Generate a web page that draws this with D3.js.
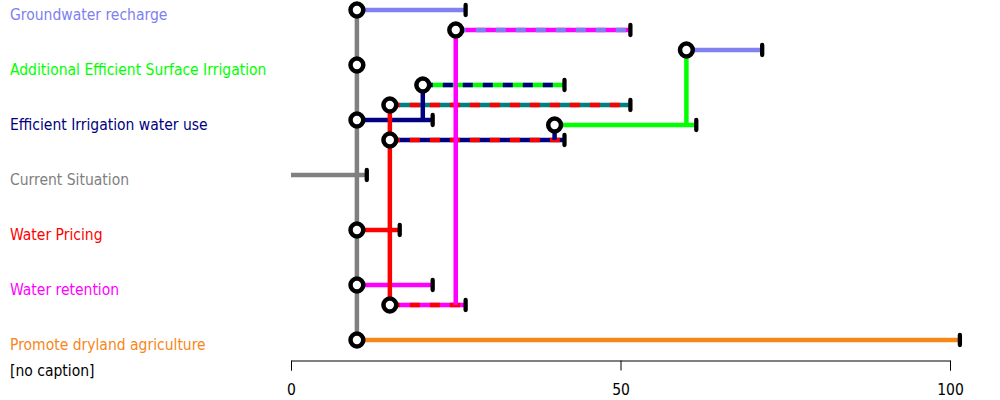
<!DOCTYPE html>
<html>
<head>
<meta charset="utf-8">
<script src="https://cdn.jsdelivr.net/npm/d3@7"></script>
<style>
  html, body { margin: 0; padding: 0; background: #fff; }
  svg { display: block; }
  text { font-family: "DejaVu Sans Condensed", "DejaVu Sans", sans-serif; }
</style>
</head>
<body>
<svg id="chart" width="1000" height="400"></svg>
<script>
// ---- categories (measures) ----
const categories = [
  "Groundwater recharge",
  "Additional Efficient Surface Irrigation",
  "Efficient Irrigation water use",
  "Current Situation",
  "Water Pricing",
  "Water retention",
  "Promote dryland agriculture"
];
const categoryColors = ["#8080f0", "#00ff00", "#000080", "#808080", "#ff0000", "#ff00ff", "#f7861b"];

// ---- horizontal pathway segments ----
const segRow   = ["Current Situation", "Groundwater recharge", "Groundwater recharge", "Groundwater recharge",
                  "Additional Efficient Surface Irrigation", "Additional Efficient Surface Irrigation", "Additional Efficient Surface Irrigation",
                  "Efficient Irrigation water use", "Efficient Irrigation water use",
                  "Water Pricing", "Water retention", "Water retention", "Promote dryland agriculture"];
const segLane  = [0, 0, 1, 2, 1, 2, 3, 0, 1, 0, 0, 1, 0];
const segStart = [0, 10, 25, 60, 20, 15, 40, 10, 15, 10, 10, 15, 10];
const segEnd   = [11.5, 26.5, 51.5, 71.5, 41.5, 51.5, 61.5, 21.5, 41.5, 16.5, 21.5, 26.5, 101.5];
const segColor = ["#808080", "#8080f0", "#ff00ff", "#8080f0", "#00ff00", "#008080", "#00ff00",
                  "#000080", "#000080", "#ff0000", "#ff00ff", "#ff00ff", "#f7861b"];
const segDash  = [null, null, "#8080f0", null, "#000080", "#ff0000", null,
                  null, "#ff0000", null, null, "#ff0000", null];
const segStartNode = [false, true, true, true, true, true, true, true, true, true, true, true, true];

// ---- extra nodes without a segment ----
const nodeRow  = ["Additional Efficient Surface Irrigation"];
const nodeLane = [0];
const nodeAt   = [10];

// ---- vertical transfers ----
const vAt       = [10, 15, 20, 25, 40, 60];
const vFromRow  = ["Groundwater recharge", "Additional Efficient Surface Irrigation", "Additional Efficient Surface Irrigation",
                   "Groundwater recharge", "Additional Efficient Surface Irrigation", "Groundwater recharge"];
const vFromLane = [0, 2, 1, 1, 3, 2];
const vToRow    = ["Promote dryland agriculture", "Water retention", "Efficient Irrigation water use",
                   "Water retention", "Efficient Irrigation water use", "Additional Efficient Surface Irrigation"];
const vToLane   = [0, 1, 0, 1, 1, 3];
const vColor    = ["#808080", "#ff0000", "#000080", "#ff00ff", "#000080", "#00ff00"];

// ---- axis ticks ----
const xTicks = [0, 50, 100];
const caption = "[no caption]";

// ================= drawing =================
const svg = d3.select("#chart");
const x = d3.scaleLinear().domain([0, 100]).range([291, 950]);
const yRow = d3.scalePoint().domain(categories).range([10, 340]);
const laneGap = 20;
const y = (row, lane) => yRow(row) + lane * laneGap;
const LW = 4.5;
const FS = 15.5;

svg.append("rect").attr("width", 1000).attr("height", 400).attr("fill", "#fff");

// labels
svg.append("g").selectAll("text").data(categories).join("text")
  .attr("x", 10)
  .attr("y", d => yRow(d) + 9.5)
  .attr("font-size", FS)
  .attr("fill", (d, i) => categoryColors[i])
  .text(d => d);

svg.append("text").attr("x", 10).attr("y", 376)
  .attr("font-size", FS).attr("fill", "#000").text(caption);

// axis
const axis = svg.append("g").attr("transform", "translate(0,360.5)")
  .call(d3.axisBottom(x).tickValues(xTicks).tickSize(10).tickSizeOuter(10).tickFormat(d3.format("d")));
axis.attr("font-size", FS).attr("font-family", '"DejaVu Sans Condensed", "DejaVu Sans", sans-serif');
axis.select(".domain").attr("stroke", "#000");
axis.selectAll(".tick line").attr("stroke", "#000");
axis.selectAll(".tick text").attr("fill", "#000").attr("y", 30).attr("dy", "0.32em");

const segs = segRow.map((r, i) => ({
  row: r, lane: segLane[i], s: segStart[i], e: segEnd[i],
  c: segColor[i], d: segDash[i], node: segStartNode[i]
}));

// horizontal base lines
const gH = svg.append("g");
gH.selectAll("line.base").data(segs).join("line")
  .attr("class", "base")
  .attr("x1", d => x(d.s)).attr("x2", d => x(d.e))
  .attr("y1", d => y(d.row, d.lane)).attr("y2", d => y(d.row, d.lane))
  .attr("stroke", d => d.c).attr("stroke-width", LW);
gH.selectAll("line.dash").data(segs.filter(d => d.d)).join("line")
  .attr("class", "dash")
  .attr("x1", d => x(d.s)).attr("x2", d => x(d.e))
  .attr("y1", d => y(d.row, d.lane)).attr("y2", d => y(d.row, d.lane))
  .attr("stroke", d => d.d).attr("stroke-width", LW)
  .attr("stroke-dasharray", "10,10");

// verticals
const verts = vAt.map((v, i) => ({
  v, y1: y(vFromRow[i], vFromLane[i]), y2: y(vToRow[i], vToLane[i]), c: vColor[i]
}));
svg.append("g").selectAll("line").data(verts).join("line")
  .attr("x1", d => x(d.v)).attr("x2", d => x(d.v))
  .attr("y1", d => d.y1).attr("y2", d => d.y2)
  .attr("stroke", d => d.c).attr("stroke-width", LW);

// terminators
svg.append("g").selectAll("line").data(segs).join("line")
  .attr("x1", d => x(d.e)).attr("x2", d => x(d.e))
  .attr("y1", d => y(d.row, d.lane) - 5).attr("y2", d => y(d.row, d.lane) + 5)
  .attr("stroke", "#000").attr("stroke-width", 4.3).attr("stroke-linecap", "round");

// nodes
const nodes = segs.filter(d => d.node).map(d => ({ row: d.row, lane: d.lane, v: d.s }))
  .concat(nodeRow.map((r, i) => ({ row: r, lane: nodeLane[i], v: nodeAt[i] })));
svg.append("g").selectAll("circle").data(nodes).join("circle")
  .attr("cx", d => x(d.v)).attr("cy", d => y(d.row, d.lane))
  .attr("r", 6.4)
  .attr("fill", "#fff").attr("stroke", "#000").attr("stroke-width", 4.5);
</script>
</body>
</html>
